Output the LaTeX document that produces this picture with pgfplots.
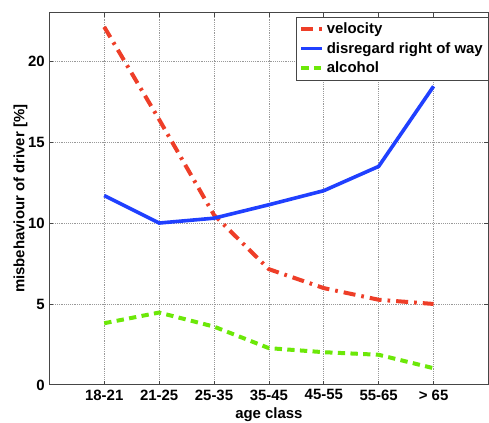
\documentclass[border=0pt]{standalone}
\usepackage{pgfplots}
\pgfplotsset{compat=1.18}
\usepackage{fontspec}
\setmainfont{Liberation Sans}
\definecolor{cred}{RGB}{238,62,40}
\definecolor{cblue}{RGB}{32,64,255}
\definecolor{cgreen}{RGB}{108,232,8}
\definecolor{caxis}{RGB}{70,70,70}
\begin{document}
\begin{tikzpicture}
\begin{axis}[
  scale only axis,
  width=329.4pt, height=279.2pt,
  xmin=0, xmax=8, ymin=0, ymax=23,
  xtick={1,2,3,4,5,6,7},
  xticklabels={18-21,21-25,25-35,35-45,45-55,55-65,> 65},
  ytick={0,5,10,15,20},
  /pgf/number format/assume math mode=true,
  tick label style={font=\bfseries\fontsize{11.2}{13}\selectfont},
  label style={font=\bfseries\fontsize{11.2}{13}\selectfont},
  xlabel={age class},
  ylabel={misbehaviour of driver [\%]},
  xlabel style={yshift=1.5pt},
  ylabel style={yshift=-6.5pt},
  grid=major,
  grid style={densely dotted, gray!80, line width=0.6pt},
  tick pos=both, tick align=inside,
  major tick length=3pt,
  every tick/.style={caxis, line width=0.6pt},
  axis line style={caxis, line width=0.8pt},
  legend style={at={(1,0.989)}, anchor=north east, draw=caxis, line width=0.6pt,
    font=\bfseries\fontsize{11.2}{13}\selectfont, row sep=1.2pt, inner sep=2pt},
  legend cell align=left,
  legend image code/.code={\draw[#1] (0cm,0cm) -- (0.55cm,0cm);},
]
\addplot[cred, line width=3pt, dash pattern=on 9pt off 4.5pt on 2pt off 4.5pt] coordinates {
(1,22.12) (2,16.4) (3,10.5) (4,7.15) (5,5.98) (6,5.26) (7,5.0)};
\addlegendentry{velocity}
\addplot[cblue, line width=2.7pt] coordinates {
(1,11.7) (2,10.0) (3,10.3) (4,11.13) (5,12.0) (6,13.5) (7,18.45)};
\addlegendentry{disregard right of way}
\addplot[cgreen, line width=3pt, dash pattern=on 5.5pt off 4pt] coordinates {
(1,3.81) (2,4.47) (3,3.6) (4,2.27) (5,2.02) (6,1.86) (7,1.03)};
\addlegendentry{alcohol}
\end{axis}
\pgfresetboundingbox
\useasboundingbox ([shift={(-37pt,-28.5pt)}]current axis.south west) rectangle ([shift={(0.4pt,9.5pt)}]current axis.north east);
\end{tikzpicture}
\end{document}
